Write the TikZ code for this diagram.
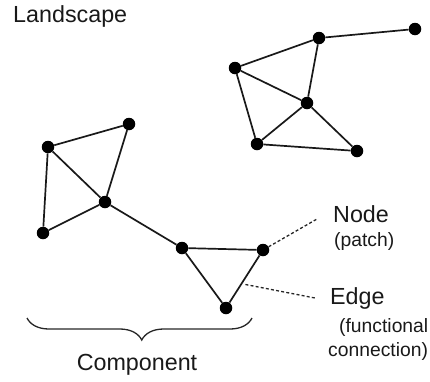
\documentclass[tikz,border=0pt]{standalone}
\usepackage{fontspec}
\setmainfont{Liberation Sans}
\usetikzlibrary{decorations.pathreplacing}
\begin{document}
\begin{tikzpicture}[x=1pt,y=-1pt,
  dot/.style={circle,fill=black,inner sep=0pt,minimum size=12.5pt},
  link/.style={line width=1.7pt,black!90},
  lead/.style={line width=1.3pt,dash pattern=on 3pt off 2.2pt,black!85},
  big/.style={font=\fontsize{23.3}{27}\selectfont,inner sep=0pt,text=black!90},
  small/.style={font=\fontsize{19.3}{22}\selectfont,inner sep=0pt,text=black!90}]
\useasboundingbox (0,0) rectangle (430,381);
% upper right cluster
\node[dot] (A) at (319,38) {};
\node[dot] (B) at (415,29) {};
\node[dot] (C) at (235,68) {};
\node[dot] (D) at (307,103) {};
\node[dot] (E) at (257,144) {};
\node[dot] (F) at (357,151) {};
% lower left cluster
\node[dot] (G) at (129,124) {};
\node[dot] (H) at (48,147) {};
\node[dot] (I) at (105,202) {};
\node[dot] (J) at (43,233) {};
\node[dot] (K) at (182,248) {};
\node[dot] (L) at (263,250) {};
\node[dot] (M) at (226,308) {};
\draw[link] (C) -- (A) -- (B);
\draw[link] (C) -- (D) (A) -- (D) (C) -- (E) (E) -- (D) (D) -- (F) (E) -- (F);
\draw[link] (H) -- (G) (G) -- (I) (H) -- (I) (H) -- (J) (J) -- (I) (I) -- (K) (K) -- (L) (K) -- (M) (L) -- (M);
% labels
\node[big,anchor=west] (land) at (13,16) {Landscape};
\node[big,anchor=west] (nodelab) at (333,214) {Node};
\node[small,anchor=west] (patch) at (334,242) {(patch)};
\node[big,anchor=west] (edgelab) at (330,298) {Edge};
\node[small,anchor=west] (func) at (339,327) {(functional};
\node[small,anchor=west] (conn) at (328,351) {connection)};
\node[big] (comp) at (137,365) {Component};
% leaders
\coordinate (nl) at (317,219);
\coordinate (el) at (315,298);
\path (L) -- (M) coordinate[pos=0.6] (em);
\draw[lead] (L) -- (nl);
\draw[lead,shorten <=4pt] (em) -- (el);
% brace
\coordinate (b1) at (27,318);
\coordinate (b2) at (252,318);
\draw[line width=1.3pt,black!85,decorate,decoration={brace,mirror,amplitude=22pt,aspect=0.51}] (b1) -- (b2);
\end{tikzpicture}
\end{document}
